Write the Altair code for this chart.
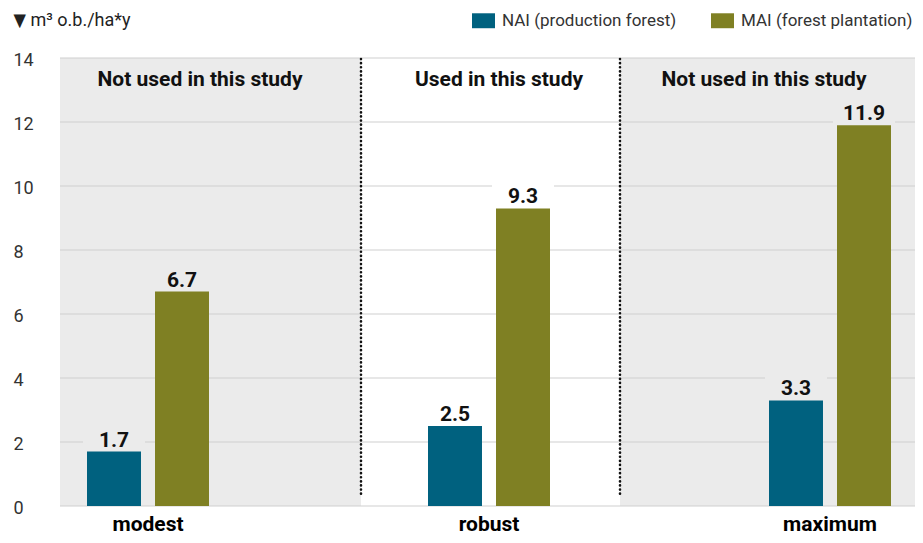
import altair as alt
import pandas as pd

# ---- data ----
groups = ["modest", "robust", "maximum"]
series = ["NAI (production forest)", "MAI (forest plantation)"]
nai = [1.7, 2.5, 3.3]
mai = [6.7, 9.3, 11.9]
region_labels = ["Not used in this study", "Used in this study", "Not used in this study"]
region_used = [False, True, False]
y_ticks = [0, 2, 4, 6, 8, 10, 12, 14]
y_title = "▼ m³ o.b./ha*y"

rows = []
for g, a, b, used in zip(groups, nai, mai, region_used):
    rows.append({"group": g, "series": series[0], "value": a, "used": used})
    rows.append({"group": g, "series": series[1], "value": b, "used": used})
df = pd.DataFrame(rows)

# ---- styles ----
W, H = 855, 448
FONT = "Roboto, DejaVu Sans Condensed, sans-serif"
BOLD = 21
REG = 18
GREY = "#ebebeb"
COLORS = ["#00617f", "#7f8023"]

x_scale = alt.Scale(domain=groups, range=[-82.5, 940.5], paddingInner=0, paddingOuter=0)
xo_scale = alt.Scale(domain=series, range=[109.5, 231.5], paddingInner=0.206, paddingOuter=0)
y_scale = alt.Scale(domain=[0, 14], nice=False, zero=True)

x_axis = alt.Axis(
    title=None, domain=False, ticks=False, grid=False, labelFontSize=BOLD,
    labelFontWeight="bold", labelColor="#000000", labelFont=FONT, labelPadding=7,
    labelAngle=0, labelLimit=0,
)
y_axis = alt.Axis(
    values=y_ticks, grid=False, domain=False, ticks=False, tickSize=0,
    labelAlign="left", labelPadding=47, labelFontSize=REG, labelColor="#333333",
    labelFont=FONT, labelBaseline="middle", labelOffset=2,
    title=y_title, titleAngle=0, titleAlign="left", titleBaseline="alphabetic",
    titleX=-47, titleY=-33, titleFontSize=REG, titleFontWeight="normal",
    titleColor="#222222", titleFont=FONT, titleLimit=0,
)

X = alt.X("group:N", scale=x_scale, axis=x_axis, sort=groups)
XO = alt.XOffset("series:N", scale=xo_scale, sort=series)

one = pd.DataFrame({"k": [0]})

# white middle region
white_rect = alt.Chart(one).mark_rect(color="white").encode(
    x=alt.value(301), x2=alt.value(560), y=alt.value(0), y2=alt.value(H)
)

# gridlines
grid = alt.Chart(pd.DataFrame({"tick": y_ticks})).mark_rule(
    color="#cfcfcf", strokeWidth=1.2
).encode(y=alt.Y("tick:Q", scale=y_scale, axis=y_axis))

# dotted separators
sep1 = alt.Chart(one).mark_rule(
    color="#111111", strokeWidth=2.6, strokeDash=[0.1, 4.0], strokeCap="round"
).encode(x=alt.value(301), y=alt.value(1), y2=alt.value(H - 10))
sep2 = alt.Chart(one).mark_rule(
    color="#111111", strokeWidth=2.6, strokeDash=[0.1, 4.0], strokeCap="round"
).encode(x=alt.value(560), y=alt.value(1), y2=alt.value(H - 10))

# region labels
label_x = [140, 439, 704]
region_texts = [
    alt.Chart(one).mark_text(
        text=lab, font=FONT, fontSize=BOLD, fontWeight="bold", color="#111111",
        align="center", baseline="alphabetic",
    ).encode(x=alt.value(px), y=alt.value(28))
    for lab, px in zip(region_labels, label_x)
]

base = alt.Chart(df)

# label backgrounds (break gridlines behind value labels)
label_bg = base.transform_calculate(
    top="datum.value + 0.75",
    bg="datum.used ? 'white' : '" + GREY + "'",
).mark_bar(width=62).encode(
    x=X, xOffset=XO,
    y=alt.Y("value:Q", scale=y_scale, axis=y_axis),
    y2="top:Q",
    fill=alt.Fill("bg:N", scale=None, legend=None),
)

bars = base.mark_bar().encode(
    x=X, xOffset=XO,
    y=alt.Y("value:Q", scale=y_scale, axis=y_axis),
    color=alt.Color(
        "series:N",
        scale=alt.Scale(domain=series, range=COLORS),
        legend=alt.Legend(
            title=None, orient="none", legendX=412, legendY=-49,
            direction="horizontal",
            symbolType="M-1,-0.65L1,-0.65L1,0.65L-1,0.65Z", symbolSize=529,
            symbolStrokeWidth=0, labelFontSize=17, labelFont=FONT,
            labelColor="#333333", labelOffset=7, columnPadding=34, labelLimit=0,
        ),
    ),
)

values = base.mark_text(
    font=FONT, fontSize=BOLD, fontWeight="bold", color="#111111",
    baseline="alphabetic", dy=-5,
).encode(
    x=X, xOffset=XO,
    y=alt.Y("value:Q", scale=y_scale, axis=y_axis),
    text=alt.Text("value:Q", format=".1f"),
)

chart = alt.layer(
    white_rect, grid, sep1, sep2, *region_texts, label_bg, bars, values
).properties(
    width=W, height=H,
    autosize=alt.AutoSizeParams(type="none"),
    padding={"left": 52, "top": 50, "right": 0, "bottom": 29},
).configure_view(
    stroke=None, fill=GREY
)

chart.save("out.html", embed_options={"renderer": "svg", "actions": False})
